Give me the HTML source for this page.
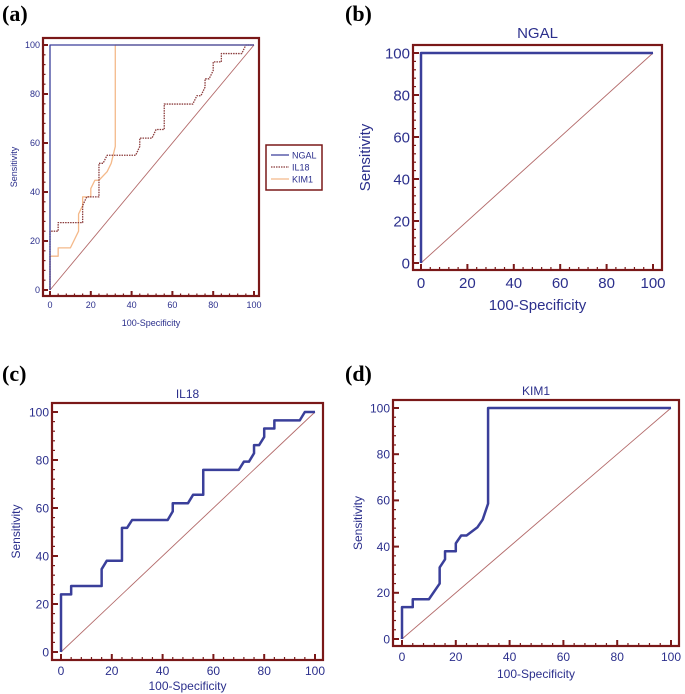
<!DOCTYPE html>
<html><head><meta charset="utf-8"><style>
body{margin:0;background:#fff;}
svg{display:block;font-family:"Liberation Sans",sans-serif;}
</style></head><body>
<svg id="s" width="685" height="694"></svg>
<script>
const ngalX=[0,0,100];
const ngalY=[0,100,100];
const il18X=[0,0,4,4,16,16,18,24,24,26,28,42,44,44,50,52,56,56,70,72,74,76,76,78,80,80,84,84,94,96,100];
const il18Y=[0,24,24,27.5,27.5,34.5,38,38,51.7,51.7,55,55,58.6,62,62,65.5,65.5,75.9,75.9,79.3,79.3,82.8,86.2,86.2,89.6,93.1,93.1,96.5,96.5,100,100];
const kim1X=[0,0,4,4,10,14,14,16,16,20,20,22,24,28,30,32,32,100];
const kim1Y=[0,13.8,13.8,17.2,17.2,24,31,34.5,38,38,41.4,44.8,44.8,48.3,51.7,58.6,100,100];
const tickLabels=[0,20,40,60,80,100];

const NS="http://www.w3.org/2000/svg";
const svg=document.getElementById('s');
function mk(tag,attrs,parent,text){const e=document.createElementNS(NS,tag);for(const k in attrs)e.setAttribute(k,attrs[k]);if(text!==undefined)e.textContent=text;(parent||svg).appendChild(e);return e;}

function panel(p){
  const g=mk('g',{});
  
  
  const sx=v=>p.x0+(p.x1-p.x0)*v/100, sy=v=>p.y0+(p.y1-p.y0)*v/100;
  const lab=mk('text',{x:p.lx,y:p.ly,'font-family':'Liberation Serif,serif','font-weight':'bold','font-size':22,fill:'#000'},g,p.letter);
  
  
  if(p.title){const t=mk('text',{x:(p.fx0+p.fx1)/2,y:p.ty,'text-anchor':'middle','font-size':p.tfs,fill:'#2b2f8c'},g,p.title);
    
    }
  // ticks
  for(let v=0;v<=100;v+=4){
    const maj=v%20===0, L=maj?p.tl:p.tl*0.5;
    mk('line',{x1:sx(v),x2:sx(v),y1:p.fy1,y2:p.fy1-L,stroke:'#7a1818','stroke-width':maj?2:1.2},g);
    mk('line',{y1:sy(v),y2:sy(v),x1:p.fx0,x2:p.fx0+L,stroke:'#7a1818','stroke-width':maj?2:1.2},g);
  }
  tickLabels.forEach(v=>{
    const a=mk('text',{x:sx(v),y:p.fy1+p.fs+3,'text-anchor':'middle','font-size':p.fs,fill:'#2b2f8c'},g,v);
    
    
    const b=mk('text',{x:p.fx0-3,y:sy(v)+p.fs*0.36,'text-anchor':'end','font-size':p.fs,fill:'#2b2f8c'},g,v);
    
    
  });
  const xt=mk('text',{x:(p.fx0+p.fx1)/2,y:p.xty,'text-anchor':'middle','font-size':p.afs,fill:'#2b2f8c'},g,'100-Specificity');
  
  
  const yt=mk('text',{x:0,y:0,'text-anchor':'middle','font-size':p.afs,fill:'#2b2f8c',transform:`translate(${p.ytx},${(p.fy0+p.fy1)/2}) rotate(-90)`},g,'Sensitivity');
  
  
  const d=mk('line',{x1:sx(0),y1:sy(0),x2:sx(100),y2:sy(100),stroke:'#b36a6a','stroke-width':0.9},g);
  
  
  p.series.forEach(s=>{
    const pts=s.xs.map((x,i)=>sx(x)+','+sy(s.ys[i])).join(' ');
    const pl=mk('polyline',{points:pts,fill:'none',stroke:s.c,'stroke-width':s.w,'stroke-dasharray':s.dash||'none','stroke-linejoin':'round'},g);
    
    
  });
  const fr=mk('rect',{x:p.fx0,y:p.fy0,width:p.fx1-p.fx0,height:p.fy1-p.fy0,fill:'none',stroke:'#7a1818','stroke-width':2.2},g);
  
  
  return g;
}

panel({name:'panel-a',letter:'(a)',lx:2,ly:21,fx0:43,fx1:259,fy0:38,fy1:296,x0:50,x1:254,y0:290,y1:45,tl:5,fs:9,afs:9,xty:326,ytx:17,
  series:[{xs:kim1X,ys:kim1Y,c:'#f4b98a',w:1.3,n:'kim1-curve'},{xs:il18X,ys:il18Y,c:'#8a3a3a',w:1.3,dash:'1.5 1',n:'il18-curve'},{xs:ngalX,ys:ngalY,c:'#3a3f9a',w:1.3,n:'ngal-curve'}]});
// legend
const lg=mk('g',{});


mk('rect',{x:266,y:145,width:56,height:45,fill:'#fff',stroke:'#7a1818','stroke-width':1.5},lg);
[['NGAL','#3a3f9a',''],['IL18','#8a3a3a','1.5 1'],['KIM1','#f4b98a','']].forEach((e,i)=>{
  const y=155+i*12;
  const en=mk('g',{},lg);
  
  
  mk('line',{x1:271,x2:289,y1:y,y2:y,stroke:e[1],'stroke-width':1.3,'stroke-dasharray':e[2]||'none'},en);
  mk('text',{x:292,y:y+3.5,'font-size':9,fill:'#2b2f8c'},en,e[0]);
});

panel({name:'panel-b',letter:'(b)',lx:345,ly:21,fx0:413,fx1:662,fy0:45,fy1:270,x0:421,x1:653,y0:263,y1:53,tl:6,fs:15,afs:15,title:'NGAL',ty:38,tfs:15,xty:310,ytx:370,
  series:[{xs:ngalX,ys:ngalY,c:'#3a3f9a',w:2.5,n:'ngal-curve'}]});
panel({name:'panel-c',letter:'(c)',lx:2,ly:381,fx0:52,fx1:323,fy0:403,fy1:660,x0:61,x1:315,y0:652,y1:412,tl:6,fs:12,afs:12,title:'IL18',ty:398,tfs:12,xty:690,ytx:20,
  series:[{xs:il18X,ys:il18Y,c:'#3a3f9a',w:2.5,n:'il18-curve'}]});
panel({name:'panel-d',letter:'(d)',lx:345,ly:381,fx0:393,fx1:679,fy0:400,fy1:646,x0:402,x1:671,y0:639,y1:408,tl:6,fs:12,afs:12,title:'KIM1',ty:395,tfs:12,xty:678,ytx:362,
  series:[{xs:kim1X,ys:kim1Y,c:'#3a3f9a',w:2.5,n:'kim1-curve'}]});
</script>
</body></html>
